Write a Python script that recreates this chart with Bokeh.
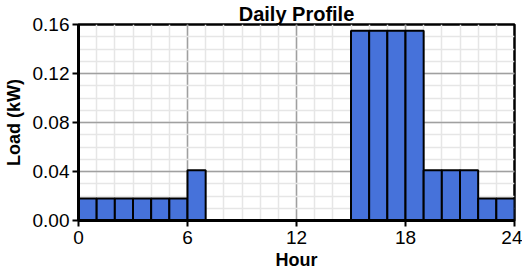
from bokeh.plotting import figure
from bokeh.models import ColumnDataSource, FixedTicker, Range1d
from bokeh.embed import file_html
from bokeh.resources import INLINE

hours = list(range(24))
load_kw = [0.018, 0.018, 0.018, 0.018, 0.018, 0.018, 0.041,
           0.0, 0.0, 0.0, 0.0, 0.0, 0.0, 0.0, 0.0,
           0.155, 0.155, 0.155, 0.155,
           0.041, 0.041, 0.041,
           0.018, 0.018]
x_ticks = [0, 6, 12, 18, 24]
y_ticks = [0.0, 0.04, 0.08, 0.12, 0.16]
y_tick_labels = {0.0: "0.00", 0.04: "0.04", 0.08: "0.08", 0.12: "0.12", 0.16: "0.16"}
title_text = "Daily Profile"

src = ColumnDataSource(dict(left=hours, right=[h + 1 for h in hours], top=load_kw))

p = figure(width=522, height=273, output_backend="svg", toolbar_location=None,
           x_range=Range1d(0, 24), y_range=Range1d(0, 0.16),
           min_border_left=76, min_border_right=8, min_border_top=0, min_border_bottom=53)

p.title.text = title_text
p.title.align = "center"
p.title.text_font = "Liberation Sans"
p.title.text_font_size = "20px"
p.title.text_font_style = "bold"
p.title.text_color = "black"
p.title.offset = 0
p.title.standoff = 0

p.quad(left="left", right="right", bottom=0, top="top", source=src,
       fill_color="#4672DA", line_color="black", line_width=2)

p.xaxis.ticker = FixedTicker(ticks=x_ticks, minor_ticks=list(range(25)))
p.yaxis.ticker = FixedTicker(ticks=y_ticks, minor_ticks=[i / 100 for i in range(17)])
p.yaxis.major_label_overrides = y_tick_labels

for ax in (p.xaxis[0], p.yaxis[0]):
    ax.major_label_text_font = "Liberation Sans"
    ax.major_label_text_font_size = "19px"
    ax.major_label_text_color = "black"
    ax.axis_label_text_font = "Liberation Sans"
    ax.axis_label_text_font_size = "18px"
    ax.axis_label_text_font_style = "bold"
    ax.axis_label_text_color = "black"
    ax.axis_line_color = "black"
    ax.axis_line_width = 3
    ax.major_tick_line_color = "black"
    ax.major_tick_line_width = 2
    ax.major_tick_in = 0
    ax.major_tick_out = 6
    ax.minor_tick_line_color = None

p.xaxis.axis_label = "Hour"
p.yaxis.axis_label = "Load (kW)"
p.xaxis.major_label_standoff = 4
p.xaxis.axis_label_standoff = 3
p.yaxis.major_label_standoff = 3
p.yaxis.axis_label_standoff = 6

p.xgrid.grid_line_color = "#a0a0a0"
p.ygrid.grid_line_color = "#a0a0a0"
p.xgrid.grid_line_width = 1.5
p.ygrid.grid_line_width = 1.5
p.xgrid.minor_grid_line_color = "#e6e6e6"
p.ygrid.minor_grid_line_color = "#e6e6e6"
p.xgrid.minor_grid_line_width = 1.5
p.ygrid.minor_grid_line_width = 1.5

p.outline_line_color = "black"
p.outline_line_width = 2.5
p.background_fill_color = "white"
p.border_fill_color = "white"

open("out.html", "w").write(file_html(p, INLINE))
